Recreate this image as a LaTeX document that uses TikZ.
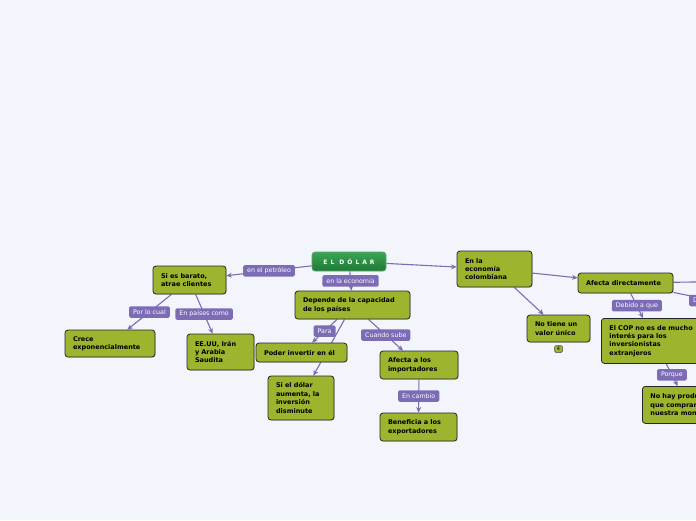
\documentclass[tikz,border=0pt]{standalone}
\usepackage{fontspec}
\usetikzlibrary{arrows.meta,backgrounds,shadows}
\newfontfamily\mapfont{DejaVu Sans}
\newfontfamily\titlefont[LetterSpace=50]{DejaVu Sans}
\definecolor{mapbg}{RGB}{243,245,253}
\definecolor{ideagreen}{RGB}{156,180,46}
\definecolor{linkpurple}{RGB}{124,107,181}
\definecolor{titletop}{RGB}{58,165,82}
\definecolor{titlebot}{RGB}{30,122,52}

\begin{document}
\begin{tikzpicture}[x=1pt,y=-1pt,
    idea/.style 2 args={draw=black!85,line width=0.8pt,fill=ideagreen,rounded corners=3pt,
        font=\mapfont\bfseries\fontsize{6.5}{8.4}\selectfont,align=left,
        text width=#1,minimum height=#2,inner xsep=8pt,inner ysep=2pt,
        drop shadow={shadow xshift=0.8pt,shadow yshift=-0.8pt,opacity=0.25}},
    title/.style={draw=titlebot!70!white,line width=0.6pt,top color=titletop,bottom color=titlebot,
        rounded corners=3pt,text=white,font=\titlefont\bfseries\fontsize{6}{7}\selectfont,
        minimum width=74pt,minimum height=19pt},
    lbl/.style={fill=linkpurple,text=white,rounded corners=1.5pt,
        font=\mapfont\fontsize{6.3}{7}\selectfont,inner xsep=4pt,inner ysep=1pt,minimum height=11.5pt},
    link/.style={draw=linkpurple,line width=1.1pt,-{Stealth[length=5.5pt,width=5pt]}},
    badge/.style={draw=black!70,line width=0.5pt,fill=ideagreen,rounded corners=1.5pt,
        font=\mapfont\fontsize{5}{5}\selectfont,minimum width=8pt,minimum height=7pt,inner sep=0.5pt}
]
\useasboundingbox (0,0) rectangle (696,520);

\node[title] (dolar) at (349,261.5) {EL DÓLAR};
\node[idea={57pt}{28pt}] (barato) at (189.5,280) {Si es barato,\\atrae clientes};
\node[idea={99pt}{28pt}] (depende) at (352.5,305) {Depende de la capacidad\\de los países};
\node[idea={59pt}{36pt}] (economia) at (494.5,269) {En la\\economía\\colombiana};
\node[idea={79pt}{20pt}] (afectadir) at (625.5,283) {Afecta directamente};
\node[idea={47pt}{27pt}] (notiene) at (558.5,328.5) {No tiene un\\valor único};
\node[badge] (count) at (558.5,349) {4};
\node[idea={90pt}{45pt},anchor=north west] (cop) at (601,318) {El COP no es de mucho\\interés para los\\inversionistas\\extranjeros};
\node[idea={74pt}{37pt},anchor=north west] (nohay) at (642,386) {No hay productos\\que compran\\nuestra moneda};
\node[idea={74pt}{27pt}] (crece) at (110,343.5) {Crece\\exponencialmente};
\node[idea={51pt}{36pt}] (eeuu) at (220.5,352) {EE.UU, Irán\\y Arabia\\Saudita};
\node[idea={75pt}{19pt}] (poder) at (301.5,352.5) {Poder invertir en él};
\node[idea={50pt}{44pt}] (sidolar) at (301,398) {Si el dólar\\aumenta, la\\inversión\\disminute};
\node[idea={62pt}{28pt}] (importadores) at (419,365) {Afecta a los\\importadores};
\node[idea={61pt}{28pt}] (exportadores) at (418.5,427) {Beneficia a los\\exportadores};

\coordinate (offright) at (760,281);
\coordinate (offdown) at (925.5,342.4);

\begin{scope}[on background layer]
\fill[mapbg] (0,0) rectangle (696,520);
\draw[link] (dolar) -- node[lbl]{en el petróleo} (barato);
\draw[link] (dolar) -- node[lbl]{en la economía} (depende);
\draw[link] (dolar) -- (economia);
\draw[link] (barato) -- node[lbl]{Por lo cual} (crece);
\draw[link] (barato) -- node[lbl]{En países como} (eeuu);
\draw[link] (depende) -- node[lbl]{Para} (poder);
\draw[link] (depende) -- (sidolar);
\draw[link] (depende) -- node[lbl]{Cuando sube} (importadores);
\draw[link] (importadores) -- node[lbl]{En cambio} (exportadores);
\draw[link] (economia) -- (afectadir);
\draw[link] (economia) -- (notiene);
\draw[link] (afectadir) -- node[lbl]{Debido a que} (cop);
\draw[link] (cop) -- node[lbl]{Porque} (nohay);
\draw[link] (afectadir) -- (offright);
\draw[link] (afectadir) -- node[lbl,pos=0.162]{Debido a que} (offdown);
\end{scope}
\end{tikzpicture}
\end{document}
